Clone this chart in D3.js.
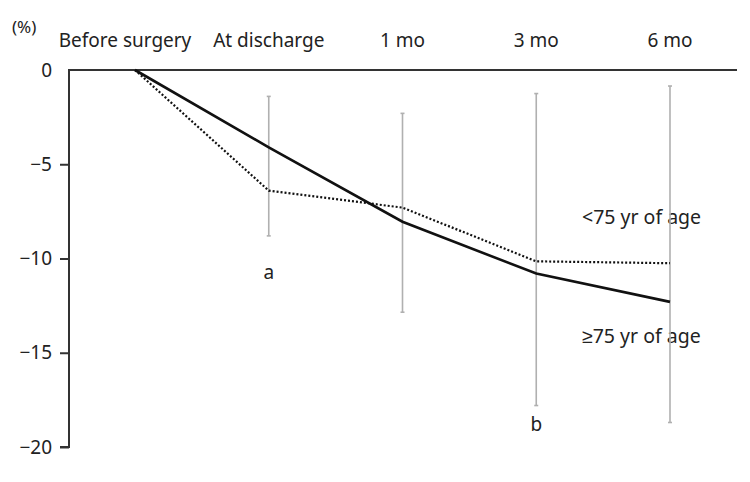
<!DOCTYPE html>
<html><head><meta charset="utf-8">
<script src="https://cdn.jsdelivr.net/npm/d3@7"></script>
<style>body{margin:0;background:#fff}svg{display:block}text{font-family:"Noto Sans",sans-serif;fill:#222}</style>
</head><body><svg id="c" width="750" height="482"></svg>
<script>
const categories = ["Before surgery","At discharge","1 mo","3 mo","6 mo"];
const olderValues = [0,-4.1,-8.05,-10.8,-12.3];      // ≥75 yr (solid)
const youngerValues = [0,-6.4,-7.3,-10.15,-10.25];   // <75 yr (dotted)
const errHigh = [null,-1.4,-2.3,-1.25,-0.85];
const errLow = [null,-8.8,-12.85,-17.8,-18.7];
const yTicks = [0,-5,-10,-15,-20];
const seriesLabels = ["<75 yr of age","\u226575 yr of age"];
const sigMarks = [{i:1,label:"a",v:-11.1},{i:3,label:"b",v:-19.15}];

const svg = d3.select("#c");
const x = d3.scalePoint().domain(categories).range([135,670]);
const y = d3.scaleLinear().domain([0,-20]).range([70,447]);

// axes
const yAxis = d3.axisLeft(y).tickValues(yTicks).tickSize(9).tickPadding(8).tickFormat(d=>d===0?"0":"\u2212"+Math.abs(d));
const gy = svg.append("g").attr("transform","translate(69,0)").call(yAxis);
gy.select(".domain").attr("stroke","#333").attr("stroke-width",2).attr("d","M0,70V447H-9");
gy.selectAll(".tick line").attr("stroke","#333").attr("stroke-width",2).filter(d=>d===0).remove();
gy.selectAll(".tick text").style("font-size","19px").attr("fill","#222").style("font-family","'Noto Sans',sans-serif");

svg.append("line").attr("x1",68).attr("x2",737).attr("y1",y(0)).attr("y2",y(0)).attr("stroke","#333").attr("stroke-width",2);

// top category labels
svg.selectAll("text.cat").data(categories).enter().append("text").attr("class","cat")
  .attr("x",(d,i)=>x(d)+(i===0?-10:0)).attr("y",47).attr("text-anchor","middle")
  .style("font-size","19px").text(d=>d);
svg.append("text").attr("x",12).attr("y",33).style("font-size","17px").text("(%)");

// series labels
svg.append("text").attr("x",582).attr("y",224).style("font-size","19.5px").text(seriesLabels[0]);
svg.append("text").attr("x",582).attr("y",343).style("font-size","19.5px").text(seriesLabels[1]);

// error bars
const eb = categories.map((c,i)=>({c,hi:errHigh[i],lo:errLow[i]})).filter(d=>d.hi!==null);
const ebg = svg.append("g").attr("stroke","#b0b0b0").attr("stroke-width",1.6);
ebg.selectAll("line.v").data(eb).enter().append("line")
  .attr("x1",d=>x(d.c)).attr("x2",d=>x(d.c)).attr("y1",d=>y(d.hi)).attr("y2",d=>y(d.lo));
ebg.selectAll("line.t").data(eb).enter().append("line")
  .attr("x1",d=>x(d.c)-2).attr("x2",d=>x(d.c)+2).attr("y1",d=>y(d.hi)).attr("y2",d=>y(d.hi));
ebg.selectAll("line.b").data(eb).enter().append("line")
  .attr("x1",d=>x(d.c)-2).attr("x2",d=>x(d.c)+2).attr("y1",d=>y(d.lo)).attr("y2",d=>y(d.lo));

// lines
const line = d3.line().x((d,i)=>x(categories[i])).y(d=>y(d));
svg.append("path").datum(youngerValues).attr("d",line).attr("fill","none").attr("stroke","#111")
  .attr("stroke-width",2.2).attr("stroke-dasharray","2,2");
svg.append("path").datum(olderValues).attr("d",line).attr("fill","none").attr("stroke","#111")
  .attr("stroke-width",2.6);

// significance letters
svg.selectAll("text.sig").data(sigMarks).enter().append("text").attr("class","sig")
  .attr("x",d=>x(categories[d.i])).attr("y",d=>y(d.v)).attr("text-anchor","middle")
  .style("font-size","19px").text(d=>d.label);
</script></body></html>
